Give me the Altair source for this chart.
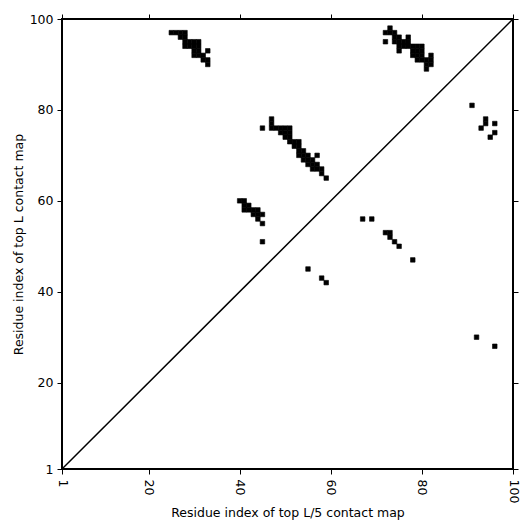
import altair as alt
import pandas as pd

# Contacts, row by row: (row index on y, list of column indices on x)
row_y = [97, 96, 95, 94, 93, 92, 91, 90,
         98, 97, 96, 95, 94, 93, 92, 91, 90, 89,
         78, 77, 76, 75, 74, 73, 72, 71, 70, 69, 68, 67, 66, 65,
         60, 59, 58, 57, 56, 55, 51,
         56, 53, 52, 51, 50, 47, 45, 43, 42,
         81, 78, 77, 76, 75, 74,
         30, 28]
row_x = [[25, 26, 27, 28], [27, 28], [28, 29, 30, 31], [28, 29, 30, 31], [30, 31, 33], [30, 31, 32], [32, 33], [33],
         [73], [72, 73, 74], [74, 75, 77], [72, 74, 75, 76, 77], [75, 76, 77, 78, 79, 80], [75, 78, 79, 80], [78, 79, 80, 82], [79, 80, 81, 82], [81, 82], [81],
         [47], [47], [45, 47, 48, 49, 50, 51], [49, 50, 51], [50, 51], [51, 52, 53], [52, 53], [53, 54], [53, 54, 55, 57], [54, 55, 56], [55, 56, 57], [56, 57, 58], [58], [59],
         [40, 41], [41, 42], [41, 42, 43, 44], [43, 44, 45], [44], [45], [45],
         [67, 69], [72, 73], [73], [74], [75], [78], [55], [58], [59],
         [91], [94], [94, 96], [93], [96], [95],
         [92], [96]]

tick_values = [1, 20, 40, 60, 80, 100]
diag = [1, 100]

recs = []
for yv, xs in zip(row_y, row_x):
    for xv in xs:
        recs.append({"x": xv, "y": yv})
df = pd.DataFrame(recs)
diag_df = pd.DataFrame({"a": diag, "b": diag})

xscale = alt.Scale(domain=[1, 100], nice=False, zero=False)
yscale = alt.Scale(domain=[1, 100], nice=False, zero=False)

common_axis = dict(values=tick_values, grid=False, domain=False, tickColor="black",
                   tickSize=5, tickWidth=1, labelColor="black", labelFont="DejaVu Sans",
                   labelFontSize=12.5, titleFont="DejaVu Sans", titleFontSize=12.5,
                   titleFontWeight="normal", titleColor="black")

cells = alt.Chart(df).transform_calculate(
    x0="datum.x - 0.5", x1="datum.x + 0.5", y0="datum.y - 0.5", y1="datum.y + 0.5"
).mark_rect(color="black", stroke="black", strokeWidth=0.6).encode(
    x=alt.X("x0:Q", scale=xscale,
            axis=alt.Axis(title="Residue index of top L/5 contact map", labelAngle=90,
                          labelPadding=5, titlePadding=4, **common_axis)),
    x2="x1:Q",
    y=alt.Y("y0:Q", scale=yscale,
            axis=alt.Axis(title="Residue index of top L contact map", labelPadding=4,
                          titlePadding=4, **common_axis)),
    y2="y1:Q",
)

line = alt.Chart(diag_df).mark_line(color="black", strokeWidth=1.5).encode(
    x=alt.X("a:Q", scale=xscale,
            axis=alt.Axis(orient="top", labels=False, title=None, values=tick_values, grid=False,
                          domain=False, tickColor="black", tickSize=5, tickWidth=1)),
    y=alt.Y("b:Q", scale=yscale,
            axis=alt.Axis(orient="right", labels=False, title=None, values=tick_values, grid=False,
                          domain=False, tickColor="black", tickSize=5, tickWidth=1)),
)

chart = alt.layer(cells, line).resolve_axis(x="independent", y="independent").properties(
    width=451, height=450,
    autosize=alt.AutoSizeParams(type="none"),
    padding={"left": 54, "top": 11, "right": 11, "bottom": 55},
).configure_view(stroke="black", strokeWidth=2)

chart.save("out.html", embed_options={"renderer": "svg", "actions": False})
